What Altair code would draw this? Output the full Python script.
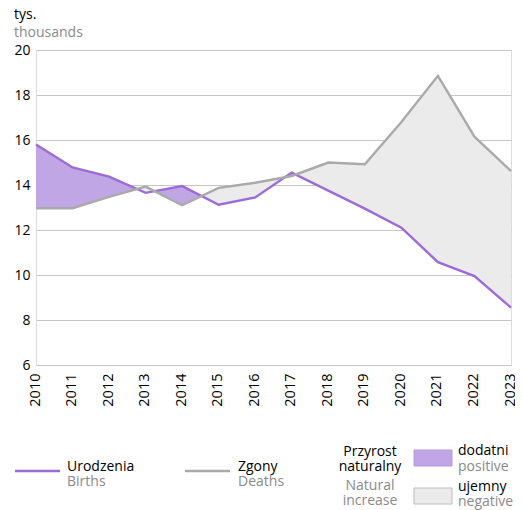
import altair as alt
import pandas as pd

years = list(range(2010, 2024))
births = [15.8, 14.78, 14.37, 13.65, 13.95, 13.12, 13.45, 14.55, 13.75, 12.95, 12.1, 10.57, 9.95, 8.55]
deaths = [12.97, 12.97, 13.47, 13.93, 13.1, 13.87, 14.1, 14.4, 15.0, 14.92, 16.8, 18.85, 16.15, 14.62]
y_ticks = [6, 8, 10, 12, 14, 16, 18, 20]

FONT = "Open Sans"
PURPLE = "#9d6bd5"
PURPLE_FILL = "#c0a6e4"
GREY = "#aaaaaa"
GREY_FILL = "#ebebeb"
SUB = "#8a8a8a"

lines = pd.DataFrame({"year": years * 2,
                      "value": births + deaths,
                      "series": ["Urodzenia"] * len(years) + ["Zgony"] * len(years)})

# band between the two series, with crossing points derived from the data
rows = []
for i in range(len(years)):
    b, d = births[i], deaths[i]
    rows.append({"year": years[i], "b": b, "d": d})
    if i < len(years) - 1:
        d0 = births[i] - deaths[i]
        d1 = births[i + 1] - deaths[i + 1]
        if d0 * d1 < 0:
            t = d0 / (d0 - d1)
            v = births[i] + t * (births[i + 1] - births[i])
            rows.append({"year": years[i] + t, "b": v, "d": v})
band = pd.DataFrame(rows)
band["lo"] = band[["b", "d"]].min(axis=1)

x_axis = alt.Axis(values=years, tickCount=14, format="d", labelAngle=-90, grid=False, domain=False,
                  ticks=False, labelPadding=8, labelFontSize=14.5, labelFont=FONT, labelOffset=-1,
                  labelColor="#000", labelOverlap=False, labelFlush=False, title=None)
y_axis = alt.Axis(values=y_ticks, grid=True, gridColor="#c6c6c6", gridWidth=1.2,
                  domain=False, ticks=False, labelPadding=6, labelFontSize=14,
                  labelFont=FONT, labelColor="#000", labelFlush=False, title=None)
x_scale = alt.Scale(domain=[2010, 2023], nice=False, zero=False)
y_scale = alt.Scale(domain=[6, 20], nice=False, zero=False)

pos = alt.Chart(band).mark_area(color=PURPLE_FILL, opacity=1).encode(
    x=alt.X("year:Q", scale=x_scale, axis=x_axis),
    y=alt.Y("b:Q", scale=y_scale, axis=y_axis), y2="lo:Q")
neg = alt.Chart(band).mark_area(color=GREY_FILL, opacity=1).encode(
    x=alt.X("year:Q", scale=x_scale, axis=x_axis),
    y=alt.Y("d:Q", scale=y_scale, axis=y_axis), y2="lo:Q")

ln = alt.Chart(lines).mark_line(strokeWidth=2.4).encode(
    x=alt.X("year:Q", scale=x_scale, axis=x_axis),
    y=alt.Y("value:Q", scale=y_scale, axis=y_axis),
    color=alt.Color("series:N", scale=alt.Scale(domain=["Urodzenia", "Zgony"], range=[PURPLE, GREY]),
                    legend=None))

one = pd.DataFrame({"a": [0]})


def txt(s, x, y, color="#000", align="left"):
    return alt.Chart(one).mark_text(text=s, align=align, baseline="alphabetic", font=FONT,
                                    fontSize=14, color=color).encode(
        x=alt.value(x), y=alt.value(y))


def rule(x1, x2, y, color):
    return alt.Chart(one).mark_rule(color=color, strokeWidth=2.4).encode(
        x=alt.value(x1), x2=alt.value(x2), y=alt.value(y))


def box(x1, x2, y1, y2, fill, stroke):
    return alt.Chart(one).mark_rect(fill=fill, stroke=stroke, strokeWidth=1).encode(
        x=alt.value(x1), x2=alt.value(x2), y=alt.value(y1), y2=alt.value(y2))


extras = [
    txt("tys.", -22, -31),
    txt("thousands", -22, -13, SUB),
    rule(-21, 24, 421, PURPLE),
    txt("Urodzenia", 31, 421),
    txt("Births", 31, 436, SUB),
    rule(149, 194, 421, GREY),
    txt("Zgony", 202, 421),
    txt("Deaths", 202, 436, SUB),
    txt("Przyrost", 334, 406, align="center"),
    txt("naturalny", 334, 421, align="center"),
    txt("Natural", 334, 440, SUB, align="center"),
    txt("increase", 334, 455, SUB, align="center"),
    box(378, 416, 400, 416, PURPLE_FILL, "#b79ade"),
    txt("dodatni", 422, 405),
    txt("positive", 422, 421, SUB),
    box(378, 416, 438, 454, GREY_FILL, "#bdbdbd"),
    txt("ujemny", 422, 441),
    txt("negative", 422, 456, SUB),
]

chart = alt.layer(pos, neg, ln, *extras).properties(
    width=475, height=315,
    autosize=alt.AutoSizeParams(type="none"),
    padding={"left": 28, "top": 42, "right": 4, "bottom": 148},
).configure_view(stroke=None).configure(background="white")

chart.save("out.html", embed_options={"renderer": "svg", "actions": False})
